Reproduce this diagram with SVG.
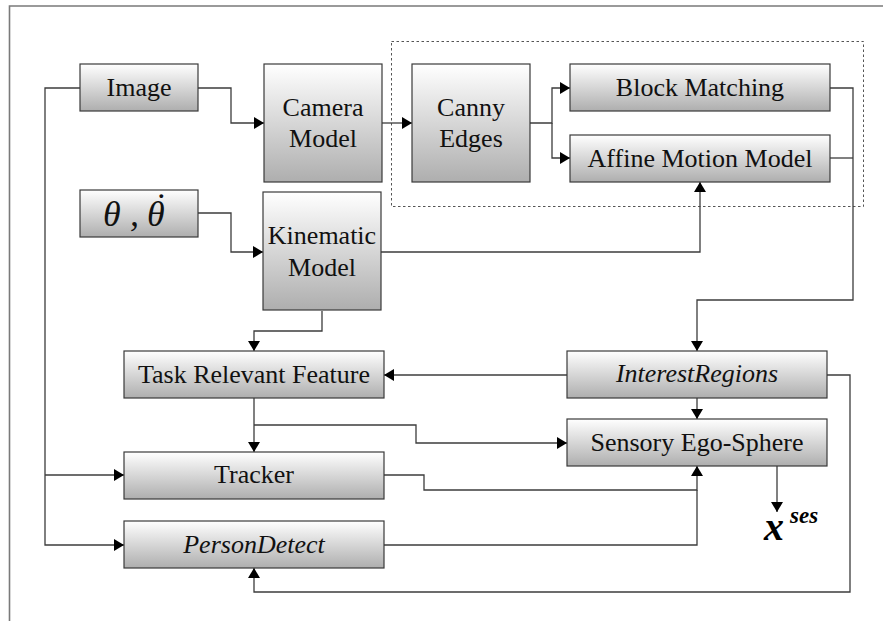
<svg xmlns="http://www.w3.org/2000/svg" width="883" height="621" viewBox="0 0 883 621">
<defs>
<linearGradient id="g" x1="0" y1="0" x2="0" y2="1">
<stop offset="0" stop-color="#ffffff"/>
<stop offset="1" stop-color="#aeaeae"/>
</linearGradient>
<marker id="a" markerUnits="userSpaceOnUse" markerWidth="11" markerHeight="12" refX="10" refY="6" orient="auto">
<path d="M0,0 L10,6 L0,12 z" fill="#000"/>
</marker>
<style>
.b{fill:url(#g);stroke:#3a3a3a;stroke-width:1.2}
.t{font-family:"Liberation Serif","Times New Roman",serif;font-size:26px;fill:#111;text-anchor:middle}
.i{font-style:italic}
.q{font-family:"Liberation Serif","Times New Roman",serif;font-style:italic;font-size:36px;fill:#111}
.c path{fill:none;stroke:#3c3c3c;stroke-width:1.3}
.c .m{marker-end:url(#a)}
</style>
</defs>
<rect width="883" height="621" fill="#fff"/>
<path d="M9.5,621 V6 H883" fill="none" stroke="#7a7a7a" stroke-width="1.6"/>
<rect x="391.5" y="41.5" width="472" height="165" fill="none" stroke="#555" stroke-width="1" stroke-dasharray="2.5,2.5"/>
<g class="c">
<path d="M80,88 H45 V545 H124" class="m"/>
<path d="M45,475 H124" class="m"/>
<path d="M198,88 H231 V123 H264" class="m"/>
<path d="M382,123 H412" class="m"/>
<path d="M530,123 H552 V88 H570" class="m"/>
<path d="M552,123 V158 H570" class="m"/>
<path d="M198,213 H231 V252 H263" class="m"/>
<path d="M381,252 H700 V182" class="m"/>
<path d="M322,311 V331 H254 V351" class="m"/>
<path d="M830,88 H853 V300 H697 V351" class="m"/>
<path d="M830,158 H853"/>
<path d="M567,375 H384" class="m"/>
<path d="M697,398 V419" class="m"/>
<path d="M827,375 H850 V592 H254 V568" class="m"/>
<path d="M254,398 V452" class="m"/>
<path d="M254,425 H416 V443 H567" class="m"/>
<path d="M384,475 H424 V490 H697 V466" class="m"/>
<path d="M384,545 H697 V490"/>
<path d="M777,466 V512" class="m"/>
</g>
<g id="image"><rect class="b" x="80" y="64" width="118" height="47"/><text class="t" x="139" y="96">Image</text></g>
<g id="camera"><rect class="b" x="264" y="64" width="118" height="118"/><text class="t" x="323" y="116">Camera</text><text class="t" x="323" y="147">Model</text></g>
<g id="canny"><rect class="b" x="412" y="64" width="118" height="118"/><text class="t" x="471" y="116">Canny</text><text class="t" x="471" y="147">Edges</text></g>
<g id="block"><rect class="b" x="570" y="64" width="260" height="47"/><text class="t" x="700" y="96">Block Matching</text></g>
<g id="affine"><rect class="b" x="570" y="135" width="260" height="47"/><text class="t" x="700" y="167">Affine Motion Model</text></g>
<g id="theta"><rect class="b" x="80" y="190" width="118" height="47"/><text class="q" y="226"><tspan x="103">θ</tspan><tspan x="130">,</tspan><tspan x="147">θ</tspan><tspan x="159" y="218" text-anchor="middle">˙</tspan></text></g>
<g id="kinematic"><rect class="b" x="263" y="192" width="118" height="118"/><text class="t" x="322" y="244">Kinematic</text><text class="t" x="322" y="276">Model</text></g>
<g id="task"><rect class="b" x="124" y="351" width="260" height="47"/><text class="t" x="254" y="383">Task Relevant Feature</text></g>
<g id="tracker"><rect class="b" x="124" y="452" width="260" height="47"/><text class="t" x="254" y="483">Tracker</text></g>
<g id="person"><rect class="b" x="124" y="521" width="260" height="47"/><text class="t i" x="254" y="553">PersonDetect</text></g>
<g id="interest"><rect class="b" x="567" y="351" width="260" height="47"/><text class="t i" x="697" y="382">InterestRegions</text></g>
<g id="ses"><rect class="b" x="567" y="419" width="260" height="47"/><text class="t" x="697" y="451">Sensory Ego-Sphere</text></g>
<g id="xses"><text x="764" y="540" style="font-family:'Liberation Serif','Times New Roman',serif;font-style:italic;font-weight:bold;font-size:40px;fill:#000">x<tspan x="790" y="523" style="font-size:23px">ses</tspan></text></g>
</svg>
